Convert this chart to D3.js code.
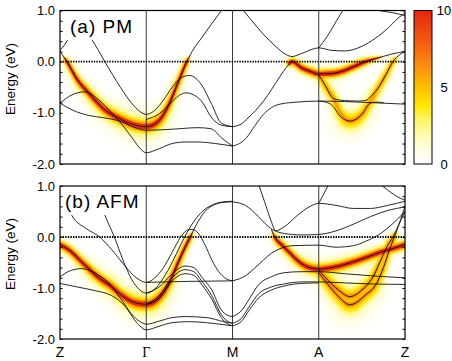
<!DOCTYPE html>
<html>
<head>
<meta charset="utf-8">
<script src="https://cdn.jsdelivr.net/npm/d3@7"></script>
<style>
  body { margin: 0; background: #fff; }
  svg { display: block; }
  text { font-family: "Liberation Sans", Arial, sans-serif; fill: #000; }
</style>
</head>
<body>
<svg id="chart" width="452" height="361"></svg>
<script>
// ---- data (k: 0=Z, 1=Γ, 2=M, 3=A, 4=Z ; energies in eV) ----
const kTicks = [0, 1, 2, 3, 4];
const kLabels = ["Z", "Γ", "M", "A", "Z"];
const energyTicks = [1, 0, -1, -2];
const cbTicks = [0, 5, 10];
const cbStops = [0, 1, 2, 3, 3.8, 5, 6.5, 8, 10];
const cbColors = ["#ffffff", "#fffde2", "#fffaa8", "#fff35c", "#ffe600", "#ffbf00", "#fb8a10", "#f35a12", "#e3260e"];

// (a) PM bands
const pmBandA = [[0,0.2],[0.08,0],[0.2,-0.35],[0.33,-0.61],[0.52,-0.94],[0.71,-1.13],[0.87,-1.24],[1,-1.27],[1.13,-1.18],[1.25,-0.88],[1.37,-0.4],[1.47,0],[1.55,0.25],[1.64,0.46],[1.75,0.72],[1.87,1.0],[1.95,1.2]];
const pmBandB = [[0,0.22],[0.09,0.43],[0.16,0.7],[0.25,0.7],[0.37,0.43],[0.52,0],[0.7,-0.5],[0.85,-0.85],[0.95,-1.0],[1,-1.03],[1.1,-0.95],[1.2,-0.75],[1.3,-0.5],[1.4,-0.32],[1.5,-0.27],[1.64,-0.45],[1.76,-0.84],[1.87,-1.2],[2,-1.27]];
const pmBandC = [[0,-0.81],[0.15,-0.64],[0.29,-0.59],[0.45,-0.75],[0.6,-1.0],[0.72,-1.23],[0.85,-1.52],[0.93,-1.7],[1,-1.78],[1.15,-1.7],[1.3,-1.6],[1.45,-1.57],[1.6,-1.57],[1.8,-1.6],[2,-1.65]];
const pmBandD = [[0,-0.81],[0.15,-0.95],[0.33,-1.05],[0.52,-1.1],[0.71,-1.17],[0.87,-1.29],[1,-1.34],[1.3,-1.32],[1.6,-1.29],[1.75,-1.31],[1.88,-1.5],[2,-1.65]];
const pmBandE = [[1,-1.13],[1.15,-1.02],[1.3,-0.78],[1.4,-0.64],[1.47,-0.61],[1.55,-0.65],[1.64,-0.77],[1.76,-1.1],[1.87,-1.24],[2,-1.27]];
const pmBandF = [[2,-1.27],[2.1,-1.22],[2.18,-1.1],[2.36,-0.77],[2.45,-0.55],[2.55,-0.29],[2.63,-0.1],[2.69,0],[2.8,-0.12],[2.9,-0.19],[3,-0.24],[3.15,-0.23],[3.27,-0.19],[3.4,-0.1],[3.54,0],[3.7,0.08],[3.85,0.15],[4,0.2]];
const pmBandG = [[3,-0.26],[3.07,-0.45],[3.17,-0.72],[3.3,-0.76],[3.45,-0.77],[3.54,-0.76],[3.62,-0.65],[3.69,-0.51],[3.78,-0.25],[3.86,0],[3.95,0.15],[4,0.2]];
const pmBandH = [[2,-1.65],[2.08,-1.6],[2.16,-1.49],[2.26,-1.25],[2.36,-1.03],[2.45,-0.9],[2.55,-0.83],[2.75,-0.79],[3,-0.77],[3.3,-0.78],[3.6,-0.8],[4,-0.83]];
const pmBandI = [[3,-0.77],[3.1,-0.8],[3.17,-0.88],[3.23,-1.03],[3.36,-1.16],[3.5,-1.03],[3.59,-0.82],[3.66,-0.79],[3.75,-0.8]];
const pmBandJ = [[2.1,1.05],[2.2,0.85],[2.35,0.55],[2.5,0.3],[2.62,0.14],[2.69,0.1],[2.8,0.16],[3,0.27],[3.15,0.22],[3.3,0.21],[3.5,0.3],[3.65,0.45],[3.8,0.65],[3.92,0.85],[4,0.95]];
const pmBandK = [[3,0.27],[3.1,0.5],[3.2,0.78],[3.28,1.0],[3.33,1.12]];
const pmBandL = [[3.6,1.06],[3.7,1.0],[3.85,0.96],[4,0.9]];
const pmSpecV = [[3,-0.25],[3.07,-0.45],[3.17,-0.72],[3.26,-1.03],[3.36,-1.16],[3.5,-1.03],[3.59,-0.8],[3.69,-0.51],[3.78,-0.25],[3.86,0],[3.95,0.15],[4,0.2]];

// (b) AFM bands
const afmBandA = [[0,-0.15],[0.1,-0.25],[0.27,-0.52],[0.45,-0.8],[0.58,-0.95],[0.72,-1.15],[0.87,-1.29],[1,-1.32],[1.13,-1.22],[1.25,-0.95],[1.37,-0.5],[1.45,-0.2],[1.51,0],[1.6,0.3],[1.68,0.5],[1.8,0.64],[1.9,0.68],[2,0.69]];
const afmBandB = [[0.1,0.7],[0.135,0.43],[0.3,0.17],[0.46,0],[0.6,-0.25],[0.73,-0.52],[0.85,-0.75],[0.93,-0.85],[1,-0.89],[1.1,-0.8],[1.2,-0.6],[1.3,-0.3],[1.4,0],[1.47,0.13],[1.53,0.15],[1.6,0.08],[1.68,-0.15],[1.76,-0.45],[1.84,-0.68],[1.91,-0.8],[2,-0.86]];
const afmBandC = [[0.45,0.75],[0.52,0.43],[0.63,0],[0.73,-0.45],[0.83,-0.83],[0.92,-1.03],[1,-1.1],[1.1,-1.02],[1.2,-0.8],[1.3,-0.5],[1.4,-0.15],[1.47,0.08],[1.55,0.3],[1.65,0.5],[1.78,0.64],[1.9,0.69],[2,0.7]];
const afmBandD = [[0,-0.78],[0.12,-0.66],[0.25,-0.62],[0.4,-0.7],[0.55,-0.88],[0.7,-1.2],[0.85,-1.55],[0.95,-1.68],[1,-1.71],[1.15,-1.65],[1.3,-1.58],[1.45,-1.56],[1.7,-1.58],[1.9,-1.66],[2,-1.69]];
const afmBandE = [[0,-0.91],[0.2,-0.98],[0.4,-1.05],[0.6,-1.15],[0.75,-1.35],[0.9,-1.7],[1,-1.82],[1.15,-1.75],[1.3,-1.68],[1.5,-1.66],[1.7,-1.68],[1.9,-1.72],[2,-1.74]];
const afmBandF = [[1,-0.89],[1.5,-0.87],[2,-0.86]];
const afmBandG = [[1,-1.1],[1.15,-0.98],[1.3,-0.72],[1.45,-0.57],[1.55,-0.6],[1.65,-0.8],[1.76,-1.04],[1.87,-1.43],[1.95,-1.54],[2,-1.56]];
const afmBandH = [[1,-1.32],[1.15,-1.15],[1.3,-0.8],[1.45,-0.64],[1.55,-0.68],[1.65,-0.88],[1.76,-1.15],[1.87,-1.52],[1.95,-1.66],[2,-1.69]];
const afmBandI = [[1,-1.32],[1.15,-1.2],[1.3,-0.86],[1.45,-0.72],[1.55,-0.75],[1.65,-0.95],[1.76,-1.22],[1.87,-1.58],[1.95,-1.71],[2,-1.74]];
const afmBandJ = [[2,0.69],[2.15,0.62],[2.3,0.4],[2.42,0.2],[2.5,0.12],[2.6,0.2],[2.75,0.42],[2.9,0.6],[3,0.66],[3.2,0.62],[3.4,0.56],[3.6,0.56],[3.8,0.62],[4,0.7]];
const afmBandK = [[2.3,1.05],[2.37,0.7],[2.44,0.35],[2.5,0.12],[2.6,0.07],[2.8,0.04],[3,0.05],[3.2,0.12],[3.4,0.25],[3.6,0.4],[3.8,0.52],[4,0.59]];
const afmBandL = [[2,-0.86],[2.16,-0.75],[2.25,-0.62],[2.36,-0.45],[2.45,-0.32],[2.55,-0.23],[2.7,-0.17],[3,-0.16],[3.2,-0.2],[3.4,-0.17],[3.55,-0.08],[3.7,0.05],[3.85,0.25],[4,0.5]];
const afmBandM = [[2.45,0.15],[2.49,0],[2.58,-0.17],[2.67,-0.32],[2.76,-0.47],[2.86,-0.58],[3,-0.63],[3.15,-0.6],[3.34,-0.52],[3.55,-0.4],[3.73,-0.29],[3.87,-0.22],[4,-0.15]];
const afmBandN = [[2,-1.56],[2.1,-1.45],[2.2,-1.2],[2.3,-0.94],[2.45,-0.78],[2.6,-0.7],[2.8,-0.68],[3,-0.68],[3.3,-0.72],[3.6,-0.76],[4,-0.8]];
const afmBandO = [[2,-1.69],[2.1,-1.6],[2.2,-1.35],[2.3,-1.12],[2.45,-0.98],[2.6,-0.92],[2.8,-0.88],[3,-0.88],[3.3,-0.9],[3.6,-0.92],[4,-0.93]];
const afmBandP = [[2,-1.74],[2.1,-1.66],[2.2,-1.42],[2.3,-1.2],[2.45,-1.04],[2.6,-0.96],[2.8,-0.91],[3,-0.9]];
const afmBandQ = [[3,-0.65],[3.07,-0.78],[3.15,-0.92],[3.23,-1.04],[3.36,-1.17],[3.5,-1.04],[3.63,-0.78],[3.72,-0.45],[3.79,-0.19],[3.86,0],[3.93,0.25],[4,0.5]];
const afmBandR = [[3,-0.7],[3.1,-0.92],[3.23,-1.17],[3.36,-1.33],[3.54,-1.14],[3.67,-0.91],[3.75,-0.6],[3.82,-0.25],[3.9,0.1],[4,0.6]];
const afmBandS = [[3,0.66],[3.06,0.85],[3.12,1.05]];
const afmBandT = [[3.7,1.05],[3.8,0.92],[3.9,0.8],[4,0.72]];

const pmBands = [pmBandA, pmBandB, pmBandC, pmBandD, pmBandE, pmBandF, pmBandG, pmBandH, pmBandI, pmBandJ, pmBandK, pmBandL];
const afmBands = [afmBandA, afmBandB, afmBandC, afmBandD, afmBandE, afmBandF, afmBandG, afmBandH, afmBandI,
                  afmBandJ, afmBandK, afmBandL, afmBandM, afmBandN, afmBandO, afmBandP, afmBandQ, afmBandR, afmBandS, afmBandT];

// spectral weight: which band, over which k range, how strong
const pmSpectral = [
  { pts: pmBandA, from: 0, to: 1.55, strength: 1 },
  { pts: pmBandF, from: 2.66, to: 4, strength: 1 },
  { pts: pmSpecV, from: 3, to: 4, strength: 0.7 }
];
const afmSpectral = [
  { pts: afmBandA, from: 0, to: 1.6, strength: 1 },
  { pts: afmBandM, from: 2.45, to: 4, strength: 1 },
  { pts: afmBandQ, from: 3, to: 3.95, strength: 0.5 },
  { pts: afmBandR, from: 3, to: 3.95, strength: 0.5 }
];

// ---- drawing ----
const svg = d3.select("#chart");
const defs = svg.append("defs");
const color = d3.scaleLinear().domain(cbStops).range(cbColors).clamp(true);
const x = d3.scaleLinear().domain([0, 4]).range([60, 405]);

const panels = [
  { y: d3.scaleLinear().domain([-2, 1]).range([164, 10.5]), bands: pmBands, spectral: pmSpectral,
    label: "(a) PM", lx: 70, ly: 33, box: [64, 13, 76, 27], title: 79 },
  { y: d3.scaleLinear().domain([-2, 1]).range([339, 186]), bands: afmBands, spectral: afmSpectral,
    label: "(b) AFM", lx: 65, ly: 208, box: [62, 188, 80, 27], title: 254 }
];

// glow layers, widest/palest first
const layers = [
  { id: "g0", v: 0.9, w: e => 15 + 24 * e, blur: 3.5, min: 0, core: false },
  { id: "g1", v: 2.2, w: e => 10 + 11 * e, blur: 2.2, min: 0, core: false },
  { id: "g2", v: 4, w: e => 7.5 + 5 * e, blur: 1.4, min: 0.3, core: false },
  { id: "g3", v: 6.8, w: e => 5.5 + 2 * e, blur: 0.9, min: 0.5, core: true },
  { id: "g4", v: 9.6, w: e => 3.8 + 0.8 * e, blur: 0.5, min: 0.8, core: true }
];
layers.forEach(l => {
  defs.append("filter").attr("id", l.id)
    .attr("filterUnits", "userSpaceOnUse")
    .attr("x", 0).attr("y", 0).attr("width", 452).attr("height", 361)
    .append("feGaussianBlur").attr("stdDeviation", l.blur);
});

function drawSpectral(g, y, specs) {
  const line = d3.line().x(d => x(d[0])).y(d => y(d[1])).curve(d3.curveMonotoneX);
  const samples = specs.map(s => {
    const p = g.append("path").attr("d", line(s.pts)).attr("fill", "none");
    const node = p.node();
    const len = node.getTotalLength();
    const pts = [];
    for (let l = 0; l <= len; l += 1.5) {
      const q = node.getPointAtLength(l);
      const k = x.invert(q.x);
      if (k >= s.from && k <= s.to) pts.push(q);
    }
    p.remove();
    return { pts, strength: s.strength };
  });
  layers.forEach(layer => {
    const lg = g.append("g").attr("filter", `url(#${layer.id})`);
    samples.forEach(s => {
      if (s.strength < layer.min) return;
      const scale = layer.core && s.strength < 1 ? 0.55 : 1;
      for (let i = 1; i < s.pts.length; i++) {
        const a = s.pts[i - 1], b = s.pts[i];
        const e = y.invert((a.y + b.y) / 2);
        const fermi = Math.max(0, Math.min(1, (0.1 - e) / 0.12));
        if (fermi <= 0) continue;
        const dx = b.x - a.x, dy = b.y - a.y;
        const cos = Math.abs(dx) / Math.hypot(dx, dy);
        const w = layer.w(Math.abs(e)) * (0.35 + 0.65 * cos) * fermi * scale;
        lg.append("line")
          .attr("x1", a.x).attr("y1", a.y).attr("x2", b.x).attr("y2", b.y)
          .attr("stroke", color(layer.v))
          .attr("stroke-width", w)
          .attr("stroke-linecap", "round");
      }
    });
  });
}

panels.forEach((p, i) => {
  const y = p.y;
  const clipId = "clip" + i;
  defs.append("clipPath").attr("id", clipId).append("rect")
    .attr("x", x(0)).attr("y", y(1))
    .attr("width", x(4) - x(0)).attr("height", y(-2) - y(1));

  const g = svg.append("g");

  // spectral function
  drawSpectral(g.append("g").attr("clip-path", `url(#${clipId})`), y, p.spectral);

  // high-symmetry lines
  g.selectAll(".kline").data(kTicks.slice(1, -1)).join("line")
    .attr("x1", d => x(d)).attr("x2", d => x(d))
    .attr("y1", y(1)).attr("y2", y(-2))
    .attr("stroke", "#222").attr("stroke-width", 0.9);

  // Fermi level
  g.append("line")
    .attr("x1", x(0)).attr("x2", x(4)).attr("y1", y(0)).attr("y2", y(0))
    .attr("stroke", "#000").attr("stroke-width", 1.9)
    .attr("stroke-dasharray", "1.4,1.2");

  // bands
  const bandLine = d3.line().x(d => x(d[0])).y(d => y(d[1])).curve(d3.curveMonotoneX);
  g.append("g").attr("clip-path", `url(#${clipId})`)
    .selectAll("path").data(p.bands).join("path")
    .attr("d", bandLine)
    .attr("fill", "none").attr("stroke", "#111").attr("stroke-width", 0.9);

  // panel label
  g.append("rect").attr("x", p.box[0]).attr("y", p.box[1])
    .attr("width", p.box[2]).attr("height", p.box[3]).attr("fill", "#fff");
  g.append("text").attr("x", p.lx).attr("y", p.ly)
    .attr("font-size", 19).attr("letter-spacing", 1).text(p.label);

  // ticks (inward) on both sides
  const minor = d3.range(-20, 11, 2).map(v => v / 10);
  g.append("g").attr("transform", `translate(${x(0)},0)`)
    .call(d3.axisRight(y).tickValues(minor).tickSize(2.5).tickFormat(""))
    .call(a => a.select(".domain").remove());
  g.append("g").attr("transform", `translate(${x(4)},0)`)
    .call(d3.axisLeft(y).tickValues(minor).tickSize(2.5).tickFormat(""))
    .call(a => a.select(".domain").remove());

  // frame
  g.append("rect").attr("x", x(0)).attr("y", y(1))
    .attr("width", x(4) - x(0)).attr("height", y(-2) - y(1))
    .attr("fill", "none").attr("stroke", "#000").attr("stroke-width", 1.2);

  // energy labels
  g.selectAll(".elab").data(energyTicks).join("text")
    .attr("x", 55).attr("y", d => y(d) + 4.5)
    .attr("text-anchor", "end").attr("font-size", 13)
    .text(d => d.toFixed(1));

  g.append("text")
    .attr("transform", `translate(15,${p.title}) rotate(-90)`)
    .attr("text-anchor", "middle").attr("font-size", 13.5)
    .text("Energy (eV)");
});

// k-point labels under the bottom panel
svg.selectAll(".klab").data(kTicks).join("text")
  .attr("x", d => x(d)).attr("y", 357)
  .attr("text-anchor", "middle").attr("font-size", 14)
  .style("font-family", (d, i) => kLabels[i] === "Γ" ? "'Liberation Serif', serif" : null)
  .text((d, i) => kLabels[i]);

// colour bar
const cb = d3.scaleLinear().domain([0, 10]).range([164, 10.5]);
const grad = defs.append("linearGradient").attr("id", "cbgrad")
  .attr("x1", 0).attr("y1", 1).attr("x2", 0).attr("y2", 0);
grad.selectAll("stop").data(cbStops).join("stop")
  .attr("offset", d => d / 10)
  .attr("stop-color", (d, i) => cbColors[i]);
svg.append("rect").attr("x", 414).attr("y", cb(10))
  .attr("width", 18).attr("height", cb(0) - cb(10))
  .attr("fill", "url(#cbgrad)").attr("stroke", "#000").attr("stroke-width", 1);
svg.selectAll(".cblab").data(cbTicks).join("text")
  .attr("x", 444).attr("y", d => cb(d) + 4.5)
  .attr("text-anchor", "middle").attr("font-size", 13)
  .text(d => d);
</script>
</body>
</html>
